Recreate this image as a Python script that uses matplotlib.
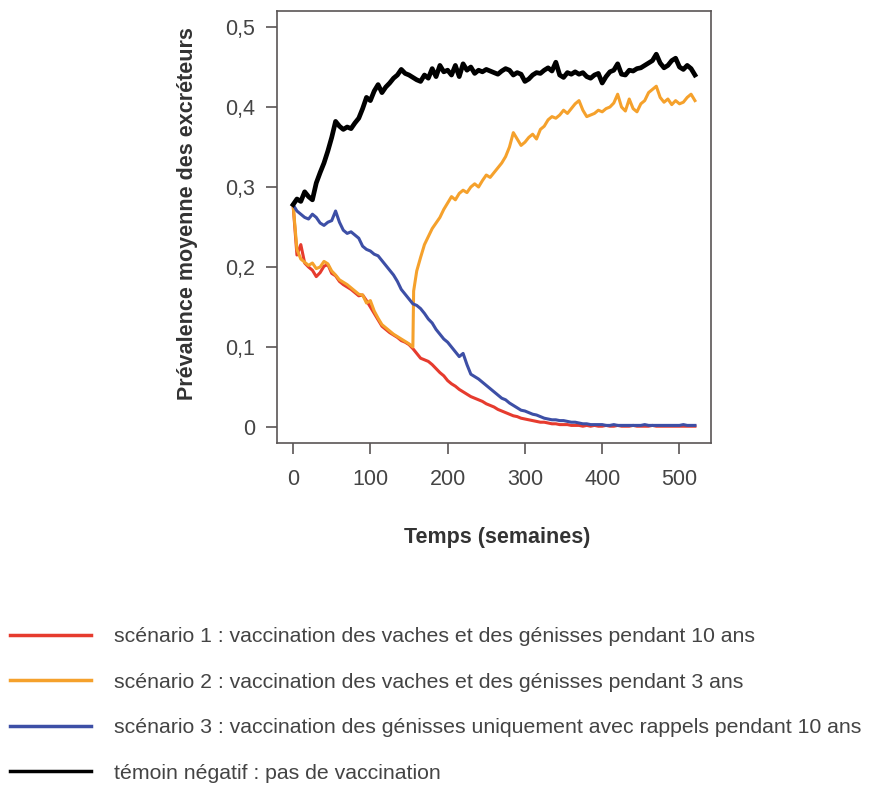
import matplotlib
matplotlib.use("Agg")
import matplotlib.pyplot as plt
from matplotlib.lines import Line2D
import numpy as np

plt.rcParams['font.family'] = ['Liberation Sans', 'DejaVu Sans']

# weeks sampled every 5 weeks, 0..520
weeks = list(range(0, 521, 5))

temoin = [
    0.278, 0.285, 0.282, 0.294, 0.288, 0.284, 0.305, 0.318, 0.330, 0.345,
    0.362, 0.382, 0.376, 0.372, 0.375, 0.373, 0.380, 0.386, 0.398, 0.412,
    0.408, 0.420, 0.428, 0.418, 0.425, 0.430, 0.436, 0.440, 0.447, 0.442,
    0.440, 0.437, 0.434, 0.432, 0.440, 0.436, 0.448, 0.438, 0.452, 0.444,
    0.446, 0.440, 0.452, 0.438, 0.454, 0.446, 0.450, 0.442, 0.446, 0.444,
    0.447, 0.445, 0.443, 0.441, 0.445, 0.448, 0.446, 0.440, 0.443, 0.441,
    0.432, 0.435, 0.440, 0.443, 0.442, 0.446, 0.449, 0.445, 0.456, 0.440,
    0.437, 0.443, 0.441, 0.444, 0.441, 0.443, 0.438, 0.436, 0.440, 0.442,
    0.430, 0.438, 0.444, 0.446, 0.454, 0.441, 0.440, 0.446, 0.445, 0.448,
    0.449, 0.452, 0.455, 0.458, 0.466, 0.455, 0.449, 0.452, 0.458, 0.461,
    0.450, 0.447, 0.452, 0.448, 0.440,
]

scen1 = [
    0.278, 0.215, 0.228, 0.205, 0.200, 0.196, 0.188, 0.193, 0.201, 0.203,
    0.192, 0.189, 0.182, 0.178, 0.175, 0.172, 0.168, 0.164, 0.165, 0.158,
    0.150, 0.142, 0.134, 0.126, 0.122, 0.118, 0.115, 0.112, 0.108, 0.106,
    0.103, 0.098, 0.092, 0.086, 0.084, 0.082, 0.078, 0.073, 0.068, 0.064,
    0.058, 0.054, 0.051, 0.047, 0.044, 0.041, 0.038, 0.036, 0.034, 0.032,
    0.029, 0.027, 0.025, 0.022, 0.020, 0.018, 0.016, 0.014, 0.013, 0.011,
    0.010, 0.009, 0.008, 0.007, 0.006, 0.006, 0.005, 0.004, 0.004, 0.003,
    0.003, 0.003, 0.002, 0.002, 0.002, 0.001, 0.002, 0.001, 0.002, 0.001,
    0.001, 0.002, 0.001, 0.001, 0.002, 0.001, 0.001, 0.001, 0.002, 0.001,
    0.001, 0.001, 0.001, 0.002, 0.001, 0.001, 0.001, 0.001, 0.001, 0.001,
    0.001, 0.001, 0.001, 0.001, 0.001,
]

# scenario 2: vaccination stops at week 156 -> sudden jump
scen2_weeks = [0, 5, 10, 15, 20, 25, 30, 35, 40, 45, 50, 55, 60, 65, 70, 75,
               80, 85, 90, 95, 100, 105, 110, 115, 120, 125, 130, 135, 140,
               145, 150, 155, 156] + list(range(160, 521, 5))
scen2 = [
    0.278, 0.222, 0.210, 0.206, 0.202, 0.205, 0.198, 0.200, 0.207, 0.204,
    0.195, 0.190, 0.184, 0.181, 0.178, 0.174, 0.170, 0.166, 0.165, 0.155,
    0.158, 0.145, 0.136, 0.128, 0.124, 0.120, 0.116, 0.113, 0.110, 0.107,
    0.104, 0.100, 0.170,
    0.195, 0.212, 0.228, 0.238, 0.248, 0.255, 0.262, 0.272, 0.280, 0.288,
    0.284, 0.292, 0.296, 0.293, 0.300, 0.304, 0.300, 0.308, 0.315, 0.312,
    0.318, 0.324, 0.330, 0.338, 0.350, 0.368, 0.360, 0.352, 0.356, 0.362,
    0.366, 0.360, 0.372, 0.376, 0.384, 0.388, 0.386, 0.390, 0.396, 0.392,
    0.398, 0.404, 0.408, 0.396, 0.388, 0.390, 0.392, 0.396, 0.394, 0.398,
    0.400, 0.405, 0.416, 0.400, 0.395, 0.410, 0.398, 0.394, 0.404, 0.408,
    0.418, 0.422, 0.426, 0.412, 0.406, 0.410, 0.403, 0.408, 0.404, 0.406,
    0.412, 0.416, 0.408,
]

scen3 = [
    0.278, 0.270, 0.266, 0.262, 0.260, 0.266, 0.262, 0.255, 0.252, 0.256,
    0.258, 0.270, 0.256, 0.246, 0.242, 0.244, 0.240, 0.236, 0.226, 0.222,
    0.220, 0.216, 0.214, 0.208, 0.202, 0.196, 0.190, 0.182, 0.172, 0.166,
    0.160, 0.154, 0.152, 0.148, 0.142, 0.135, 0.130, 0.122, 0.116, 0.110,
    0.106, 0.100, 0.094, 0.088, 0.092, 0.078, 0.066, 0.063, 0.060, 0.056,
    0.052, 0.048, 0.044, 0.040, 0.036, 0.034, 0.030, 0.027, 0.024, 0.021,
    0.020, 0.018, 0.016, 0.015, 0.013, 0.011, 0.010, 0.009, 0.009, 0.008,
    0.008, 0.007, 0.006, 0.006, 0.005, 0.004, 0.004, 0.003, 0.003, 0.003,
    0.003, 0.002, 0.002, 0.003, 0.002, 0.002, 0.002, 0.002, 0.002, 0.002,
    0.002, 0.003, 0.002, 0.002, 0.002, 0.002, 0.002, 0.002, 0.002, 0.002,
    0.002, 0.003, 0.002, 0.002, 0.002,
]

labels = [
    "scénario 1 : vaccination des vaches et des génisses pendant 10 ans",
    "scénario 2 : vaccination des vaches et des génisses pendant 3 ans",
    "scénario 3 : vaccination des génisses uniquement avec rappels pendant 10 ans",
    "témoin négatif : pas de vaccination",
]
colors = ["#e63b2e", "#f5a12c", "#3d4fa6", "#000000"]

xticks = [0, 100, 200, 300, 400, 500]
yticks = [0, 0.1, 0.2, 0.3, 0.4, 0.5]
yticklabels = ["0", "0,1", "0,2", "0,3", "0,4", "0,5"]

fig = plt.figure(figsize=(8.85, 7.87), dpi=100)
ax = fig.add_axes([0.3130, 0.4371, 0.4904, 0.5489])

ax.plot(weeks, scen1, color=colors[0], lw=2.2, zorder=2)
ax.plot(scen2_weeks, scen2, color=colors[1], lw=2.2, zorder=3)
ax.plot(weeks, scen3, color=colors[2], lw=2.2, zorder=4)
ax.plot(weeks, temoin, color=colors[3], lw=3.4, zorder=5)

ax.set_xlim(-20.8, 540.8)
ax.set_ylim(-0.02, 0.52)
ax.set_xticks(xticks)
ax.set_yticks(yticks)
ax.set_yticklabels(yticklabels)

spine_col = "#5a5555"
for s in ax.spines.values():
    s.set_color(spine_col)
    s.set_linewidth(1.2)
ax.tick_params(axis='both', direction='out', length=8, width=1.2,
               color=spine_col, labelcolor="#444444", labelsize=15.5)
ax.tick_params(axis='y', pad=8)
ax.tick_params(axis='x', pad=11)

fig.text(188 / 885, 1 - 213.5 / 787, "Prévalence moyenne des excréteurs",
         rotation=90, ha='center', va='center', fontsize=15.5,
         fontweight='bold', color="#333333")
fig.text(497 / 885, 1 - 537 / 787, "Temps (semaines)", ha='center',
         va='center', fontsize=15.5, fontweight='bold', color="#333333")

handles = [Line2D([], [], color=c, lw=2.5) for c in colors]
fig.legend(handles, labels, loc='upper left',
           bbox_to_anchor=(10 / 885, 1 - 627 / 787), frameon=False,
           fontsize=15.3, handlelength=3.8, handletextpad=1.1,
           labelspacing=1.25, borderpad=0, borderaxespad=0,
           labelcolor="#444444")

fig.savefig("out.png", dpi=100)
